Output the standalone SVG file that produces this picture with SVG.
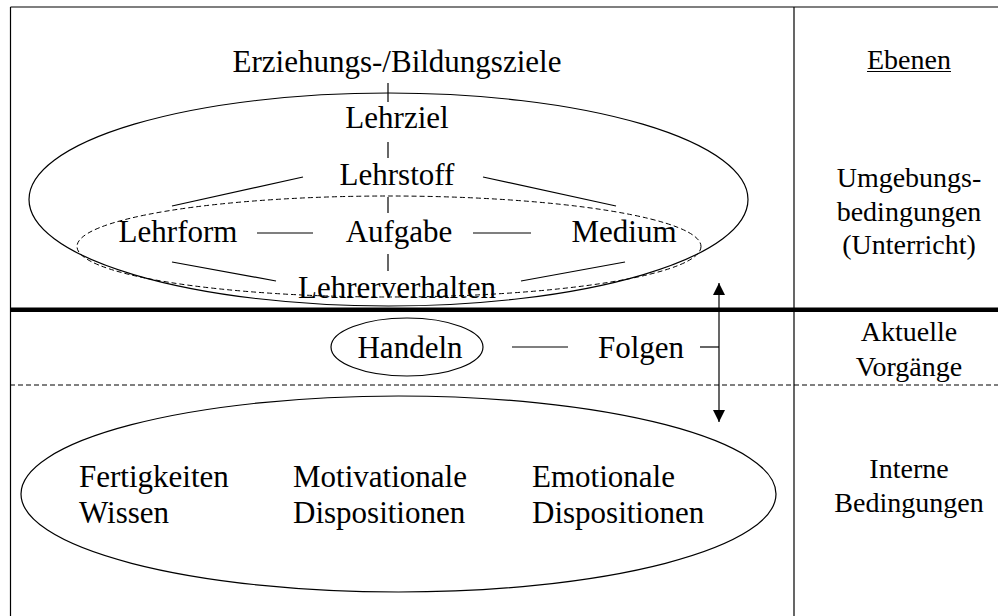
<svg xmlns="http://www.w3.org/2000/svg" width="998" height="616" viewBox="0 0 998 616">
<style>
text{font-family:"Liberation Serif","Times New Roman",serif;fill:#000}
.m{font-size:31px}
.r{font-size:28px;text-anchor:middle}
.c{text-anchor:middle}
.ln{stroke:#000;stroke-width:1.2;fill:none}
.dash{stroke:#000;stroke-width:1;fill:none;stroke-dasharray:5 3}
</style>
<defs>
<marker id="ah" viewBox="0 0 12 12" refX="12" refY="6" markerWidth="12" markerHeight="12" markerUnits="userSpaceOnUse" orient="auto">
<path d="M0,0 L12,6 L0,12 Z" fill="#000"/>
</marker>
</defs>
<rect width="998" height="616" fill="#fff"/>
<g id="frame">
<line class="ln" x1="10.5" y1="7" x2="998" y2="7"/>
<line class="ln" x1="10.5" y1="7" x2="10.5" y2="616"/>
<line class="ln" x1="794" y1="7" x2="794" y2="616"/>
<line x1="10" y1="309.7" x2="998" y2="309.7" stroke="#000" stroke-width="4.6"/>
<line class="dash" x1="10" y1="385" x2="998" y2="385"/>
</g>
<g id="umgebung-ellipse"><ellipse class="ln" cx="388.5" cy="199.5" rx="359.5" ry="106.5"/></g>
<g id="inner-ellipse"><ellipse class="dash" cx="389" cy="246.5" rx="312" ry="50.5"/></g>
<g id="erziehungsziele"><text class="m c" x="397" y="72">Erziehungs-/Bildungsziele</text></g>
<g id="lehrziel"><text class="m c" x="397" y="128">Lehrziel</text></g>
<g id="lehrstoff"><text class="m c" x="397" y="185">Lehrstoff</text></g>
<g id="lehrform"><text class="m c" x="178" y="242">Lehrform</text></g>
<g id="aufgabe"><text class="m c" x="399" y="242">Aufgabe</text></g>
<g id="medium"><text class="m c" x="624" y="242">Medium</text></g>
<g id="lehrerverhalten"><text class="m c" x="397" y="298">Lehrerverhalten</text></g>
<g id="handeln"><ellipse class="ln" cx="407" cy="347" rx="76" ry="29"/><text class="m c" x="410" y="358">Handeln</text></g>
<g id="folgen"><text class="m c" x="641" y="358">Folgen</text></g>
<g id="interne-ellipse"><ellipse class="ln" cx="398.5" cy="494" rx="377.5" ry="98"/></g>
<g id="wissen"><text class="m" x="79" y="487">Fertigkeiten</text><text class="m" x="79" y="523">Wissen</text></g>
<g id="motivationale"><text class="m" x="293" y="487">Motivationale</text><text class="m" x="293" y="523">Dispositionen</text></g>
<g id="emotionale"><text class="m" x="532" y="487">Emotionale</text><text class="m" x="532" y="523">Dispositionen</text></g>
<g id="ebenen">
<text class="r" x="909" y="69">Ebenen</text>
<line x1="867" y1="71.5" x2="951" y2="71.5" stroke="#000" stroke-width="1.2"/>
<text class="r" x="909" y="187">Umgebungs-</text>
<text class="r" x="909" y="221">bedingungen</text>
<text class="r" x="909" y="254">(Unterricht)</text>
<text class="r" x="909" y="341">Aktuelle</text>
<text class="r" x="909" y="376">Vorgänge</text>
<text class="r" x="909" y="478">Interne</text>
<text class="r" x="909" y="512">Bedingungen</text>
</g>
<g id="connectors">
<line class="ln" x1="388" y1="83" x2="388" y2="102"/>
<line class="ln" x1="388" y1="142" x2="388" y2="158"/>
<line class="ln" x1="388" y1="197" x2="388" y2="213"/>
<line class="ln" x1="388" y1="254" x2="388" y2="271"/>
<line class="ln" x1="257" y1="233" x2="313" y2="233"/>
<line class="ln" x1="473" y1="233" x2="531" y2="233"/>
<line class="ln" x1="172" y1="206" x2="303" y2="177"/>
<line class="ln" x1="483" y1="177" x2="616" y2="206"/>
<line class="ln" x1="172" y1="262" x2="276" y2="281"/>
<line class="ln" x1="625" y1="262" x2="521" y2="281"/>
<line class="ln" x1="512" y1="347" x2="568" y2="347"/>
<line class="ln" x1="700" y1="347" x2="719" y2="347"/>
<line class="ln" x1="719" y1="300" x2="719" y2="283" marker-end="url(#ah)"/>
<line class="ln" x1="719" y1="300" x2="719" y2="422" marker-end="url(#ah)"/>
</g>
</svg>
